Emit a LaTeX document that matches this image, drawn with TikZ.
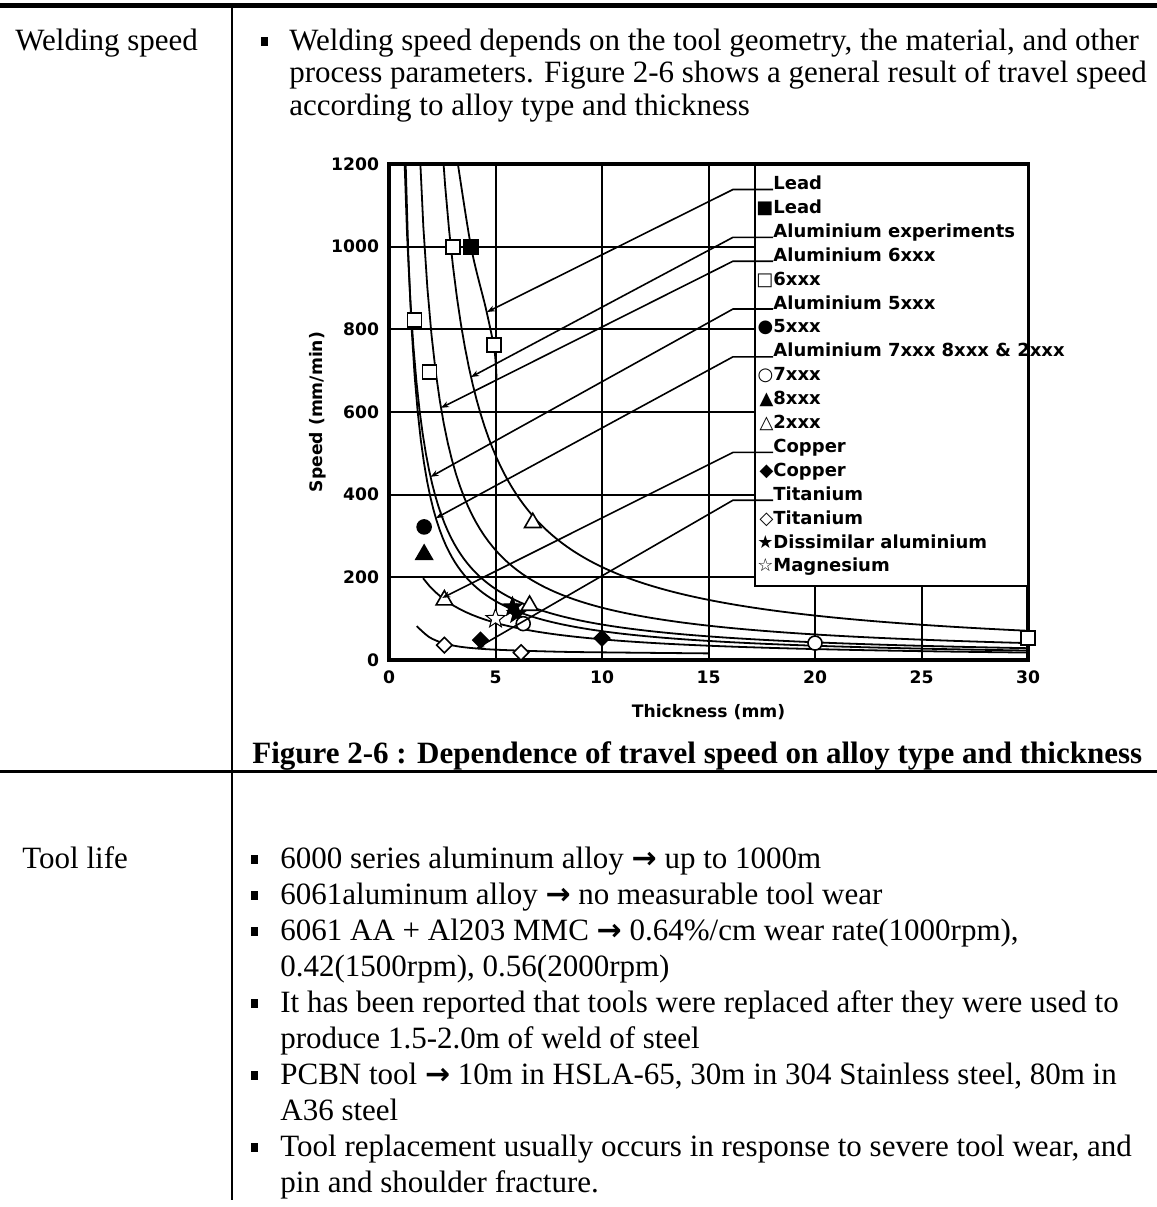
\documentclass[tikz,border=0pt]{standalone}
\usepackage{fontspec}
\setmainfont{Liberation Serif}
\newfontfamily\chartfont{DejaVu Sans}
\usepackage{tikz}
\usetikzlibrary{positioning, arrows.meta, shapes.geometric}
\newcommand{\sqbullet}{\rule[0.13em]{0.25em}{0.3em}}
\newcommand{\thenarrow}{{\chartfont\bfseries\fontsize{15pt}{15pt}\selectfont →}}
\tikzstyle{body} = [anchor=base west, inner sep=0pt, font=\fontsize{15.5pt}{18pt}\selectfont]
\tikzstyle{ticklbl} = [inner sep=0pt, font=\chartfont\bfseries\fontsize{8.6pt}{10pt}\selectfont]
\tikzstyle{legendtxt} = [anchor=base west, inner sep=0pt, font=\chartfont\bfseries\fontsize{9pt}{11pt}\selectfont]
\tikzstyle{chartframe} = [line width=1.6pt]
\tikzstyle{gridline} = [line width=1pt]
\tikzstyle{fitline} = [line width=0.9pt]
\tikzstyle{leader} = [line width=0.8pt, -{Stealth[length=4pt,width=3pt]}]
\tikzstyle{opensq} = [rectangle, draw, fill=white, line width=0.8pt, minimum size=7pt, inner sep=0pt]
\tikzstyle{fullsq} = [opensq, fill=black]
\tikzstyle{opencirc} = [circle, draw, fill=white, line width=0.8pt, minimum size=7pt, inner sep=0pt]
\tikzstyle{fullcirc} = [opencirc, fill=black]
\tikzstyle{opentri} = [regular polygon, regular polygon sides=3, draw, fill=white, line width=0.8pt, minimum size=9.5pt, inner sep=0pt]
\tikzstyle{fulltri} = [opentri, fill=black]
\tikzstyle{opendia} = [diamond, draw, fill=white, line width=0.8pt, minimum size=8pt, inner sep=0pt]
\tikzstyle{fulldia} = [opendia, fill=black]
\tikzstyle{fullstar} = [star, star points=5, star point ratio=2.4, draw, fill=black, line width=0.5pt, minimum size=10pt, inner sep=0pt]
\tikzstyle{openstar} = [fullstar, fill=white]

\begin{document}
\begin{tikzpicture}[x=0.5pt, y=-0.5pt]
        \useasboundingbox (0,0) rectangle (1157,1207);

        \draw[line width=2.5pt] (0,5.5) -- (1157,5.5);
        \draw[line width=1.5pt] (0,771) -- (1157,771);
        \draw[line width=0.75pt] (232,8) -- (232,1200);

        \node[body] (wsp) at (15,50) {Welding speed};
        \node[body] (r1a) at (289,50) {\llap{\sqbullet\hspace{10.5pt}}Welding speed depends on the tool geometry, the material, and other};
        \node[body, below=16.25pt of r1a.base west, anchor=base west] (r1b) {process parameters. Figure 2-6 shows a general result of travel speed};
        \node[body, below=16.25pt of r1b.base west, anchor=base west] (r1c) {according to alloy type and thickness};

        \node[body, font=\bfseries\fontsize{15.5pt}{18pt}\selectfont] (cap) at (252,763) {Figure 2-6 : Dependence of travel speed on alloy type and thickness};

        \node[body] (tl) at (22,868) {Tool life};
        \node[body] (t1) at (280,868) {\llap{\sqbullet\hspace{11pt}}6000 series aluminum alloy \thenarrow{} up to 1000m};
        \node[body, below=18pt of t1.base west, anchor=base west] (t2) {\llap{\sqbullet\hspace{11pt}}6061aluminum alloy \thenarrow{} no measurable tool wear};
        \node[body, below=18pt of t2.base west, anchor=base west] (t3) {\llap{\sqbullet\hspace{11pt}}6061 AA + Al203 MMC \thenarrow{} 0.64\%/cm wear rate(1000rpm),};
        \node[body, below=18pt of t3.base west, anchor=base west] (t4) {0.42(1500rpm), 0.56(2000rpm)};
        \node[body, below=18pt of t4.base west, anchor=base west] (t5) {\llap{\sqbullet\hspace{11pt}}It has been reported that tools were replaced after they were used to};
        \node[body, below=18pt of t5.base west, anchor=base west] (t6) {produce 1.5-2.0m of weld of steel};
        \node[body, below=18pt of t6.base west, anchor=base west] (t7) {\llap{\sqbullet\hspace{11pt}}PCBN tool \thenarrow{} 10m in HSLA-65, 30m in 304 Stainless steel, 80m in};
        \node[body, below=18pt of t7.base west, anchor=base west] (t8) {A36 steel};
        \node[body, below=18pt of t8.base west, anchor=base west] (t9) {\llap{\sqbullet\hspace{11pt}}Tool replacement usually occurs in response to severe tool wear, and};
        \node[body, below=18pt of t9.base west, anchor=base west] (t10) {pin and shoulder fracture.};

        \begin{scope}[shift={(389,660)}, x=10.65pt, y=0.20665pt]
        \foreach \t in {5,10,15} \draw[gridline] (\t,0) -- (\t,1200);
        \foreach \t in {20,25} \draw[gridline] (\t,0) -- (\t,179);
        \foreach \v in {200,400,...,1000} \draw[gridline] (0,\v) -- (17.18,\v);
        \draw[chartframe] (0,0) rectangle (30,1200);

        \begin{scope}
        \clip (0,0) rectangle (30,1200);
        \draw[fitline] plot[smooth] coordinates {(3.12,1240) (3.85,1000) (4.55,850) (4.95,750) (5.05,680)};
        \draw[fitline, domain=2.45:30, samples=150] plot (\x,{2061/(\x-0.84)});
        \draw[fitline, domain=1.42:30, samples=150] plot (\x,{1208/(\x-0.46)});
        \draw[fitline, domain=0.70:30, samples=200] plot (\x,{857/(\x-0.016)});
        \draw[fitline, domain=0.76:30, samples=200] plot (\x,{683/(\x-0.21)});
        \draw[fitline, domain=1.6:30, samples=100] plot (\x,{562/(\x+1.24)});
        \draw[fitline] plot[smooth] coordinates {(1.3,82) (1.9,55) (2.6,40) (3.5,31) (5,25) (8,20) (11,18) (15,16)};
        \end{scope}

        \coordinate (tipLead) at (4.6,842);
        \coordinate (tipAlexp) at (3.85,{2061/(3.85-0.84)});
        \coordinate (tipSix) at (2.44,{1208/(2.44-0.46)});
        \coordinate (tipFive) at (1.95,{857/(1.95-0.016)});
        \coordinate (tipSeven) at (2.2,{683/(2.2-0.21)});
        \coordinate (tipCopper) at (2.5,{562/(2.5+1.24)});
        \coordinate (tipTi) at (4.1,28);

        \node[fullsq] (lead1) at (3.85,1000) {};
        \foreach \t/\v [count=\i] in {3.0/1000, 1.2/823, 1.9/697, 4.93/762, 30/53} \node[opensq] (six\i) at (\t,\v) {};
        \node[fullcirc] (five1) at (1.65,322) {};
        \node[fulltri] (eight1) at (1.65,255) {};
        \foreach \t/\v [count=\i] in {6.75/332, 2.6/145, 6.6/132} \node[opentri] (two\i) at (\t,\v) {};
        \foreach \t/\v [count=\i] in {4.3/48, 10/53} \node[fulldia] (cu\i) at (\t,\v) {};
        \foreach \t/\v [count=\i] in {2.6/36, 6.2/18} \node[opendia] (ti\i) at (\t,\v) {};
        \node[openstar] (mg1) at (5.0,100) {};
        \foreach \t/\v [count=\i] in {5.8/128, 6.0/112} \node[fullstar] (dis\i) at (\t,\v) {};
        \foreach \t/\v [count=\i] in {6.3/88, 20/41} \node[opencirc] (seven\i) at (\t,\v) {};

        \foreach \v in {0,200,...,1200} \node[ticklbl, anchor=east] (yl\v) at (-0.45,\v) {\v};
        \foreach \t in {0,5,...,30} \node[ticklbl, anchor=base] (xl\t) at (\t,-58) {\t};
        \node[ticklbl, anchor=base] (xtitle) at (15,-138) {Thickness (mm)};
        \node[ticklbl, rotate=90] (ytitle) at (-3.33,600) {Speed (mm/min)};
        \end{scope}

        \draw[line width=1pt, fill=white] (755,165) rectangle (1028,586);
        \foreach \g/\txt [count=\i from 0] in {{}/Lead, ■/Lead, {}/Aluminium experiments, {}/Aluminium 6xxx, □/6xxx, {}/Aluminium 5xxx, ●/5xxx, {}/Aluminium 7xxx 8xxx \& 2xxx, ○/7xxx, ▲/8xxx, △/2xxx, {}/Copper, ◆/Copper, {}/Titanium, ◇/Titanium, ★/Dissimilar aluminium, ☆/Magnesium}
            \node[legendtxt] (lg\i) at (773,{189.5+23.9*\i}) {\llap{\g}\txt};

        \foreach \i/\tip in {0/tipLead, 2/tipAlexp, 3/tipSix, 5/tipFive, 7/tipSeven, 11/tipCopper, 13/tipTi} {
            \coordinate (knee\i) at (733,{189.5+23.9*\i});
            \draw[leader] (lg\i.base west) -- (knee\i) -- (\tip);
        }
\end{tikzpicture}
\end{document}
